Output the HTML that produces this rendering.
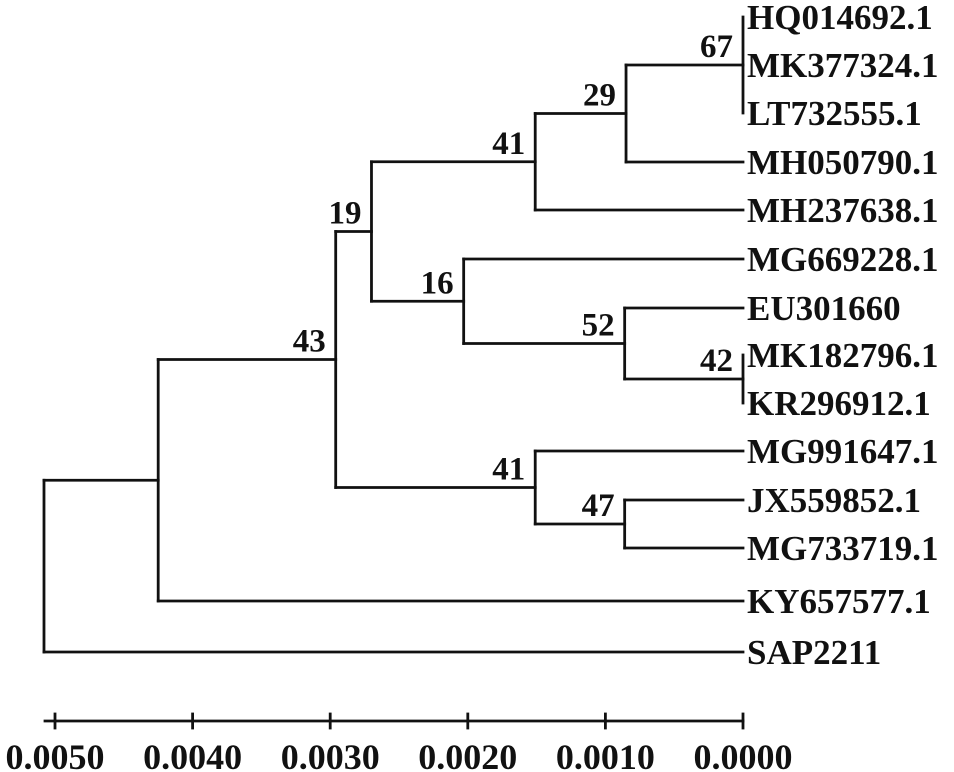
<!DOCTYPE html>
<html><head><meta charset="utf-8"><style>
html,body{margin:0;padding:0;background:#fff;}
svg{display:block;}
text{font-family:"Liberation Serif",serif;font-weight:bold;fill:#111;}
</style></head><body>
<svg id="chart" width="954" height="772" viewBox="0 0 954 772"></svg>
<script>
// leaf names and their row positions (top to bottom)
const leafNames = ["HQ014692.1","MK377324.1","LT732555.1","MH050790.1","MH237638.1","MG669228.1","EU301660","MK182796.1","KR296912.1","MG991647.1","JX559852.1","MG733719.1","KY657577.1","SAP2211"];
const leafRowsY = [17,65,113,162,210,259,308,355,403,451,500,548,601,652];
// internal nodes: children (leaf index or "n"+node index), height (distance from tips), bootstrap
const nodeChildren = [[0,1,2],["n0",3],["n1",4],[7,8],[6,"n3"],[5,"n4"],["n2","n5"],[10,11],[9,"n7"],["n6","n8"],["n9",12],["n10",13]];
const nodeHeights = [0,0.00085,0.00151,0,0.00086,0.00203,0.00270,0.00086,0.00151,0.00296,0.00425,0.00508];
const nodeBootstrap = ["67","29","41","42","52","16","19","47","41","43","",""];
const tickValues = [0.005,0.004,0.003,0.002,0.001,0];
const tickLabels = ["0.0050","0.0040","0.0030","0.0020","0.0010","0.0000"];

const svg = document.getElementById('chart');
const NS = 'http://www.w3.org/2000/svg';
const x0 = 743, pxPerUnit = 137600;
function xScale(h){ return x0 - h*pxPerUnit; }
function line(x1,y1,x2,y2,name){
  const l=document.createElementNS(NS,'line');
  l.setAttribute('x1',x1);l.setAttribute('y1',y1);l.setAttribute('x2',x2);l.setAttribute('y2',y2);
  l.setAttribute('stroke','#111');l.setAttribute('stroke-width','2.8');l.setAttribute('stroke-linecap','square');
  
  
  svg.appendChild(l);
}
function text(x,y,s,anchor,size,name){
  const t=document.createElementNS(NS,'text');
  t.setAttribute('x',x);t.setAttribute('y',y);t.setAttribute('font-size',size);
  if(anchor) t.setAttribute('text-anchor',anchor);
  t.textContent=s;
  
  
  svg.appendChild(t);
}
const nodeY = [];
function posOf(c){
  if(typeof c==='number') return {x:xScale(0),y:leafRowsY[c]};
  const i=+c.slice(1); return {x:xScale(nodeHeights[i]),y:nodeY[i]};
}
nodeChildren.forEach((ch,i)=>{
  const nx=xScale(nodeHeights[i]);
  const ps=ch.map(posOf);
  const ys=ps.map(p=>p.y);
  const ymin=Math.min(...ys), ymax=Math.max(...ys);
  nodeY[i]=(ymin+ymax)/2;
  line(nx,ymin,nx,ymax,'node-'+i+'-vertical');
  ps.forEach((p,k)=>{ if(p.x>nx+0.5) line(nx,p.y,p.x,p.y,'branch-'+i+'-'+k); });
  if(nodeBootstrap[i]){
    text(nx-10,nodeY[i]-8,nodeBootstrap[i],'end',33,'bootstrap-'+i);
  }
});
leafNames.forEach((n,i)=>text(747,leafRowsY[i]+12,n,null,35,'leaf-label-'+n));
// scale axis
line(45,721,743,721,'scale-axis-line');
tickValues.forEach((v,i)=>{
  const x=xScale(v);
  line(x,714,x,728,'scale-tick-'+i);
  text(x,769,tickLabels[i],'middle',36,'scale-tick-label-'+i);
});
</script>
</body></html>
